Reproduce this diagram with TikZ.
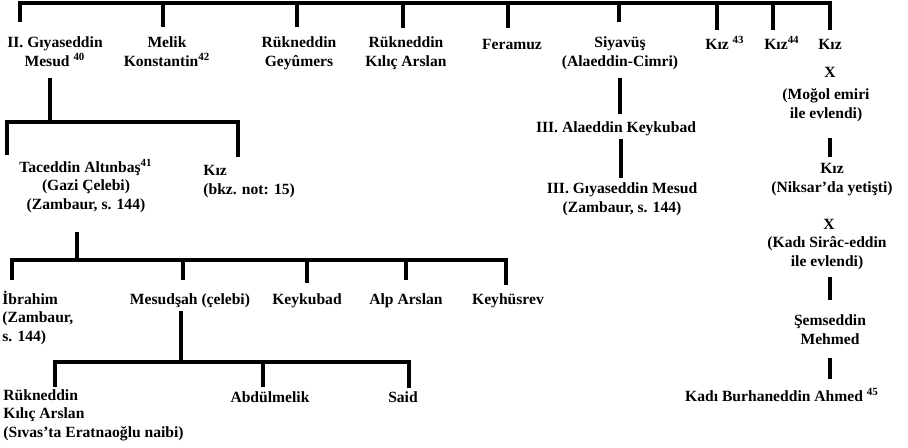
\documentclass[tikz,border=0pt]{standalone}
\usepackage{fontspec}
\setmainfont{Liberation Serif}
\usetikzlibrary{calc}

\tikzset{
  person/.style={inner sep=0pt,align=center,anchor=base,
    font=\fontsize{7.8}{9.25}\selectfont\bfseries},
  personl/.style={person,align=left,anchor=base west},
  link/.style={line width=1.7pt,line join=miter},
}

\begin{document}
\begin{tikzpicture}[x=0.5pt,y=-0.5pt]
  \useasboundingbox (0,0) rectangle (908,447);
  % first generation (base = last line)
  \node[person] (giyas) at (55,66) {II. G\i yaseddin\\Mesud \textsuperscript{40}};
  \node[person] (melik) at (167,66) {Melik\\Konstantin\textsuperscript{42}};
  \node[person] (geyumers) at (299,66) {R\"ukneddin\\Gey\^umers};
  \node[person] (kilic) at (406,66) {R\"ukneddin\\K\i l\i\c{c} Arslan};
  \node[person] (feramuz) at (512,49) {Feramuz};
  \node[person] (siyavus) at (620,66) {Siyav\"u\c{s}\\(Alaeddin-Cimri)};
  \node[person] (kiza) at (725,49) {K\i z \textsuperscript{43}};
  \node[person] (kizb) at (782,49) {K\i z\textsuperscript{44}};
  \node[person] (kizc) at (830,49) {K\i z};
  \node[person] (xa) at (830,77) {X};
  \node[person] (mogol) at (826,118) {(Mo\u{g}ol emiri\\ile evlendi)};
  % Siyavus line
  \node[person] (alaeddin) at (616,132) {III. Alaeddin Keykubad};
  \node[person] (giyas3) at (622,212) {III. G\i yaseddin Mesud\\(Zambaur, s. 144)};
  % Kiz line
  \node[person] (kizd) at (832,192) {K\i z\\(Niksar'da yeti\c{s}ti)};
  \node[person] (xb) at (829,229) {X};
  \node[person] (sirac) at (827,266) {(Kad\i{} Sir\^ac-eddin\\ile evlendi)};
  \node[person] (semseddin) at (830,344) {\c{S}emseddin\\Mehmed};
  \node[person] (burhan) at (782,401) {Kad\i{} Burhaneddin Ahmed \textsuperscript{45}};
  % Giyaseddin line
  \node[person] (taceddin) at (86,209) {Taceddin Alt\i nba\c{s}\textsuperscript{41}\\(Gazi \c{C}elebi)\\(Zambaur, s. 144)};
  \node[personl] (kize) at (203,194) {K\i z\\(bkz. not: 15)};
  \node[personl] (ibrahim) at (2,341) {\.Ibrahim\\(Zambaur,\\s. 144)};
  \node[person] (mesudsah) at (190,304) {Mesud\c{s}ah (\c{c}elebi)};
  \node[person] (keykubad) at (307,304) {Keykubad};
  \node[person] (alparslan) at (406,304) {Alp Arslan};
  \node[person] (keyhusrev) at (508,304) {Keyh\"usrev};
  \node[personl] (rukneddin) at (3,437) {R\"ukneddin\\K\i l\i\c{c} Arslan\\(S\i vas'ta Eratnao\u{g}lu naibi)};
  \node[person] (abdulmelik) at (270,402) {Abd\"ulmelik};
  \node[person] (said) at (403,402) {Said};

  % bars and feet of the ticks
  \coordinate (top) at (0,3);
  \coordinate (f-giyas) at (20,22);
  \coordinate (f-melik) at (163,27);
  \coordinate (f-geyumers) at (297,27);
  \coordinate (f-kilic) at (403,28);
  \coordinate (f-feramuz) at (508,28);
  \coordinate (f-siyavus) at (619,22);
  \coordinate (f-kiza) at (717,30);
  \coordinate (f-kizb) at (773,30);
  \coordinate (f-kizc) at (830,30);
  \draw[link] (f-giyas) |- (top -| f-kizc) -- (f-kizc);
  \foreach \f in {f-melik,f-geyumers,f-kilic,f-feramuz,f-siyavus,f-kiza,f-kizb}
    \draw[link] (top -| \f) -- (\f);

  \coordinate (d-giyas) at (50,78);
  \coordinate (bar2) at (0,122);
  \coordinate (f-taceddin) at (7,155);
  \coordinate (f-kize) at (238,157);
  \draw[link] (d-giyas) -- (d-giyas |- bar2);
  \draw[link] (f-taceddin) |- (bar2 -| f-kize) -- (f-kize);

  \coordinate (d-taceddin) at (77,232);
  \coordinate (bar3) at (0,260);
  \coordinate (f-ibrahim) at (12,280);
  \coordinate (f-mesudsah) at (183,280);
  \coordinate (f-keykubad) at (307,283);
  \coordinate (f-alparslan) at (406,280);
  \coordinate (f-keyhusrev) at (506,285);
  \draw[link] (d-taceddin) -- (d-taceddin |- bar3);
  \draw[link] (f-ibrahim) |- (bar3 -| f-keyhusrev) -- (f-keyhusrev);
  \foreach \f in {f-mesudsah,f-keykubad,f-alparslan}
    \draw[link] (bar3 -| \f) -- (\f);

  \coordinate (d-mesudsah) at (181,311);
  \coordinate (bar4) at (0,362);
  \coordinate (f-rukneddin) at (55,387);
  \coordinate (f-abdulmelik) at (263,387);
  \coordinate (f-said) at (409,388);
  \draw[link] (d-mesudsah) -- (d-mesudsah |- bar4);
  \draw[link] (f-rukneddin) |- (bar4 -| f-said) -- (f-said);
  \draw[link] (bar4 -| f-abdulmelik) -- (f-abdulmelik);

  % single descents
  \draw[link,shorten <=6pt,shorten >=9pt] (siyavus.base -| 620,0) -- (alaeddin.base -| 620,0);
  \draw[link] (alaeddin.south -| 621,0) ++(0,3) -- ($(giyas3.north -| 621,0)+(0,-4)$);
  \draw[link] (mogol.south -| 830,0) ++(0,16) -- ($(kizd.north -| 830,0)+(0,-6)$);
  \draw[link] (sirac.south -| 830,0) ++(0,7) -- ($(semseddin.north -| 830,0)+(0,-14)$);
  \draw[link] (semseddin.south -| 830,0) ++(0,13) -- ($(burhan.north -| 830,0)+(0,-9)$);
\end{tikzpicture}
\end{document}
